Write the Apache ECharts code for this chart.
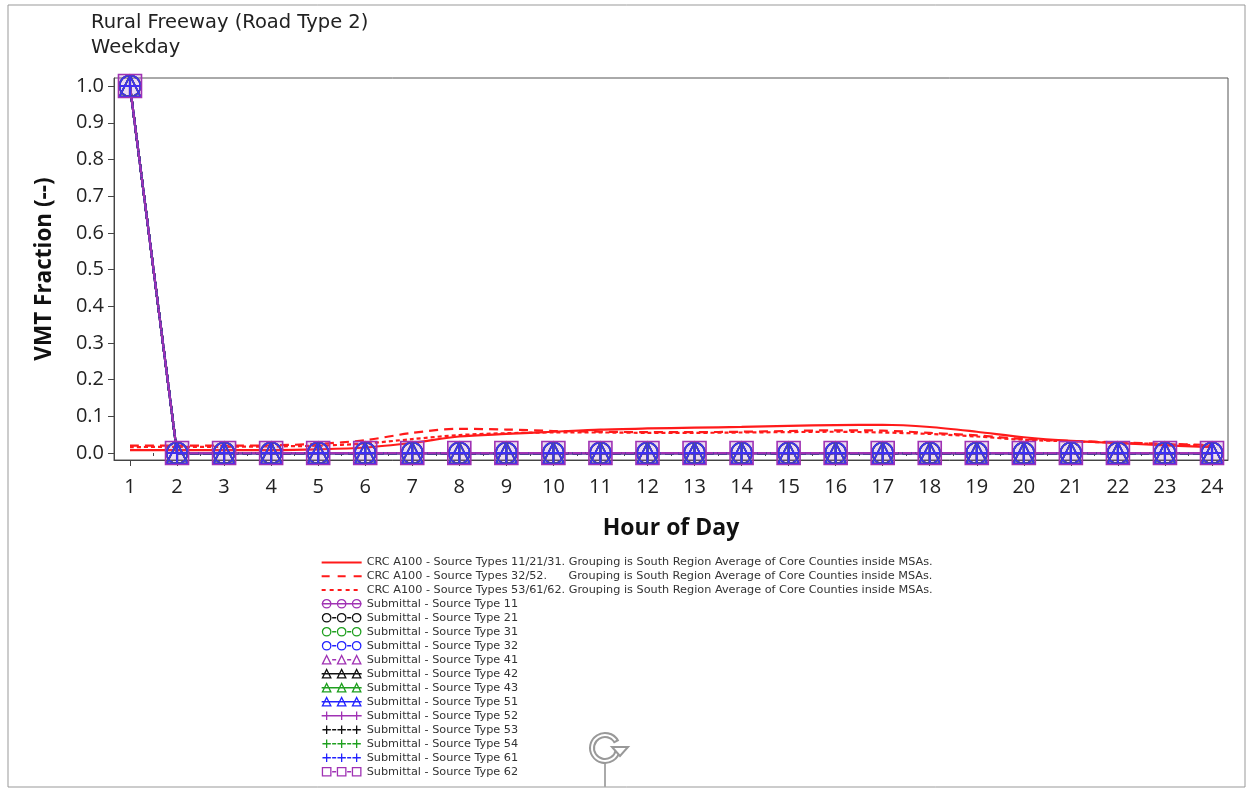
<!DOCTYPE html>
<html>
<head>
<meta charset="utf-8">
<script src="https://cdn.jsdelivr.net/npm/echarts@6/dist/echarts.min.js"></script>
<style>
html,body{margin:0;padding:0;background:#fff;}
#chart{width:1250px;height:789px;}
</style>
</head>
<body>
<div id="chart"></div>
<script>
// ---- data ----
var hours = [1,2,3,4,5,6,7,8,9,10,11,12,13,14,15,16,17,18,19,20,21,22,23,24];
var yTicks = [0,0.1,0.2,0.3,0.4,0.5,0.6,0.7,0.8,0.9,1.0];
var crcSolid  = [0.008,0.008,0.008,0.008,0.010,0.015,0.028,0.045,0.052,0.058,0.064,0.067,0.069,0.071,0.074,0.076,0.077,0.071,0.058,0.043,0.033,0.027,0.021,0.016];
var crcDash   = [0.020,0.020,0.020,0.021,0.025,0.035,0.055,0.066,0.064,0.060,0.058,0.057,0.057,0.058,0.060,0.062,0.061,0.055,0.048,0.038,0.033,0.029,0.025,0.022];
var crcShort  = [0.016,0.017,0.017,0.018,0.020,0.026,0.038,0.049,0.054,0.056,0.056,0.055,0.055,0.056,0.057,0.058,0.056,0.052,0.045,0.036,0.032,0.028,0.024,0.020];
var submittalFraction = [1.0,0,0,0,0,0,0,0,0,0,0,0,0,0,0,0,0,0,0,0,0,0,0,0];
var crcNames = [
  'CRC A100 - Source Types 11/21/31. Grouping is South Region Average of Core Counties inside MSAs.',
  'CRC A100 - Source Types 32/52.      Grouping is South Region Average of Core Counties inside MSAs.',
  'CRC A100 - Source Types 53/61/62. Grouping is South Region Average of Core Counties inside MSAs.'
];
var submittalTypes = ['11','21','31','32','41','42','43','51','52','53','54','61','62'];

// ---- styling ----
var PURPLE = '#a032b4', BLACK = '#111111', GREEN = '#1fa01f', BLUE = '#2222ff', RED = '#ff1a1a';
var plusPath = 'path://M9,0L11,0L11,9L20,9L20,11L11,11L11,20L9,20L9,11L0,11L0,9L9,9Z';
var subStyle = {
  '11':{c:PURPLE,s:'circle',t:'solid'},
  '21':{c:BLACK,s:'circle',t:'dashed'},
  '31':{c:GREEN,s:'circle',t:'dashed'},
  '32':{c:BLUE,s:'circle',t:'dashed'},
  '41':{c:PURPLE,s:'triangle',t:'dashed'},
  '42':{c:BLACK,s:'triangle',t:'solid'},
  '43':{c:GREEN,s:'triangle',t:'solid'},
  '51':{c:BLUE,s:'triangle',t:'solid'},
  '52':{c:PURPLE,s:'plus',t:'solid'},
  '53':{c:BLACK,s:'plus',t:'dashed'},
  '54':{c:GREEN,s:'plus',t:'dashed'},
  '61':{c:BLUE,s:'plus',t:'dashed'},
  '62':{c:PURPLE,s:'rect',t:'dashed'}
};

// legend icon paths (40 x 10 box)
var BOX = 'M0,0L0.01,0M39.99,10L40,10';
function symPath(kind, cx){
  var r = 4.2;
  if (kind === 'circle') return 'M'+(cx+r)+',5A'+r+','+r+',0,1,0,'+(cx-r)+',5A'+r+','+r+',0,1,0,'+(cx+r)+',5Z';
  if (kind === 'triangle') return 'M'+cx+',0.8L'+(cx+r)+',9.2L'+(cx-r)+',9.2Z';
  if (kind === 'plus') return 'M'+cx+',0.8L'+cx+',9.2M'+(cx-r)+',5L'+(cx+r)+',5';
  return 'M'+(cx-r)+',0.8L'+(cx+r)+',0.8L'+(cx+r)+',9.2L'+(cx-r)+',9.2Z';
}
function iconFor(kind, lineType){
  var cs = [5,20,35], p = BOX;
  if (lineType === 'solid') { p += 'M0,5L40,5'; }
  else { p += 'M'+(cs[0]+5.5)+',5L'+(cs[1]-5.5)+',5M'+(cs[1]+5.5)+',5L'+(cs[2]-5.5)+',5'; }
  cs.forEach(function(c){ p += symPath(kind, c); });
  return 'path://' + p;
}
function bar(x1, x2){ return 'M'+x1+',4L'+x2+',4L'+x2+',6L'+x1+',6Z'; }
var crcIcons = [
  'path://' + BOX + bar(0,40),
  'path://' + BOX + bar(0,8) + bar(16,24) + bar(32,40),
  'path://' + BOX + bar(0,4) + bar(8,12) + bar(16,20) + bar(24,28) + bar(32,36)
];

function pairs(vals){ return hours.map(function(h,i){ return [h, vals[i]]; }); }

var series = [];
var crcData = [crcSolid, crcDash, crcShort];
var crcTypes = ['solid', [9,6], [4,3]];
crcNames.forEach(function(n,i){
  series.push({
    name:n, type:'line', data:pairs(crcData[i]), showSymbol:false, symbol:'none',
    smooth:0.3, lineStyle:{color:RED, width:2.2, type:crcTypes[i]},
    itemStyle:{color:RED}, z:3
  });
});
submittalTypes.forEach(function(t){
  var st = subStyle[t];
  var sym = st.s === 'plus' ? plusPath : st.s;
  var fill = st.s === 'plus' ? st.c : (st.s === 'rect' ? 'rgba(170,90,200,0.22)' : 'rgba(0,0,0,0)');
  series.push({
    name:'Submittal - Source Type ' + t, type:'line', data:pairs(submittalFraction),
    symbol: sym, symbolSize: st.s === 'rect' ? 23 : 21,
    lineStyle:{color:st.c, width:2.2, type:st.t},
    itemStyle:{color: fill, borderColor:st.c, borderWidth: st.s === 'plus' ? 0 : 1.6},
    z:4
  });
});
var minorX = [];
for (var k=1;k<24;k++){ minorX.push(k+0.5); }

var legendData = crcNames.map(function(n,i){
  return {name:n, icon:crcIcons[i], itemStyle:{color:RED, borderWidth:0}};
}).concat(submittalTypes.map(function(t){
  var st = subStyle[t];
  return {name:'Submittal - Source Type '+t, icon:iconFor(st.s, st.t),
    itemStyle:{color:'rgba(0,0,0,0)', borderColor:st.c, borderWidth:1.3}};
}));

var chart = echarts.init(document.getElementById('chart'), null, {renderer:'canvas'});
chart.setOption({
  animation:false,
  backgroundColor:'#fff',
  textStyle:{fontFamily:'Open Sans, Noto Sans, sans-serif'},
  title:[
    {text:'Rural Freeway (Road Type 2)', left:86, top:8, textStyle:{fontSize:19.5, fontWeight:'normal', color:'#222', fontFamily:'DejaVu Sans'}},
    {text:'Weekday', left:86, top:33, textStyle:{fontSize:19.5, fontWeight:'normal', color:'#222', fontFamily:'DejaVu Sans'}}
  ],
  grid:{left:114, right:22, top:78, bottom:329, show:true, borderColor:'#555', borderWidth:1, containLabel:false},
  xAxis:[{
    type:'value', min:0.66, max:24.34,
    name:'Hour of Day', nameLocation:'middle', nameGap:57,
    nameTextStyle:{fontSize:23, fontWeight:'bold', color:'#111', fontFamily:'Open Sans'},
    axisLine:{show:true, onZero:false, lineStyle:{color:'#444', width:1}},
    axisTick:{show:true, length:6, customValues:hours, lineStyle:{color:'#444'}},
    axisLabel:{customValues:hours, fontSize:20, color:'#222', margin:17, fontFamily:'Open Sans'},
    splitLine:{show:false}
  },{
    type:'value', min:0.66, max:24.34, position:'bottom', gridIndex:0,
    axisLine:{show:false}, axisLabel:{show:false}, splitLine:{show:false},
    axisTick:{show:true, length:3, customValues:minorX, lineStyle:{color:'#444'}}
  }],
  yAxis:[{
    type:'value', min:-0.019, max:1.022,
    name:'VMT Fraction (--)', nameLocation:'middle', nameGap:58,
    nameTextStyle:{fontSize:22.5, fontWeight:'bold', color:'#111', fontFamily:'Open Sans'},
    axisLine:{show:true, lineStyle:{color:'#444', width:1}},
    axisTick:{show:true, length:6, customValues:yTicks, lineStyle:{color:'#444'}},
    axisLabel:{customValues:yTicks, fontSize:20, color:'#222', margin:10, fontFamily:'Open Sans',
      formatter:function(v){ return v.toFixed(1); }},
    splitLine:{show:false}
  }],
  legend:{
    data:legendData, orient:'vertical', left:321, top:557, height:320, padding:0,
    itemGap:2.7, itemWidth:40, itemHeight:10, itemTextGap:12,
    textStyle:{fontSize:11.25, lineHeight:10, color:'#333', fontFamily:'DejaVu Sans'}, selectedMode:false
  },
  series:series,
  graphic:[
    {type:'rect', shape:{x:8, y:5, width:1237, height:782}, style:{fill:'none', stroke:'#999', lineWidth:1}, silent:true, z:-1},
    {type:'line', shape:{x1:605, y1:762, x2:605, y2:787}, style:{stroke:'#aaa', lineWidth:2}, silent:true},
    {type:'arc', shape:{cx:605, cy:748, r:13, startAngle:0.2, endAngle:Math.PI*1.85}, style:{fill:'none', stroke:'#999', lineWidth:6}, silent:true},
    {type:'arc', shape:{cx:605, cy:748, r:13, startAngle:0.25, endAngle:Math.PI*1.8}, style:{fill:'none', stroke:'#fff', lineWidth:2}, silent:true},
    {type:'polygon', shape:{points:[[612,747],[628,747],[620,756]]}, style:{fill:'#fff', stroke:'#999', lineWidth:2}, silent:true}
  ]
});
</script>
</body>
</html>
